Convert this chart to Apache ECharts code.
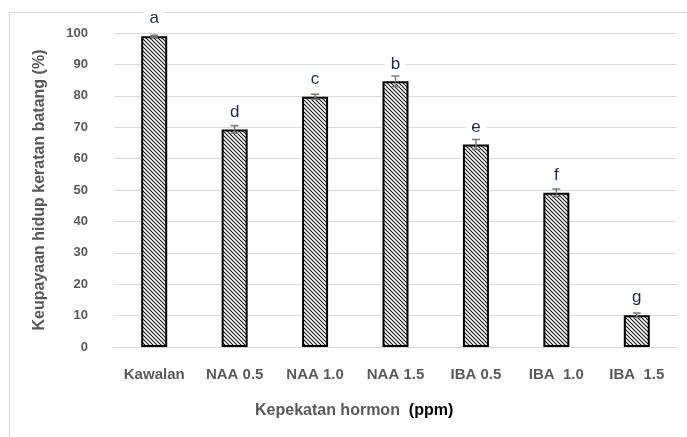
<!DOCTYPE html>
<html>
<head>
<meta charset="utf-8">
<script src="https://cdn.jsdelivr.net/npm/echarts@6/dist/echarts.min.js"></script>
<style>html,body{margin:0;padding:0;background:#fff}#c{width:687px;height:437px}</style>
</head>
<body>
<div id="c"></div>
<script>
const categories = ['Kawalan', 'NAA 0.5', 'NAA 1.0', 'NAA 1.5', 'IBA 0.5', 'IBA  1.0', 'IBA  1.5'];
const values = [99.0, 69.3, 79.7, 84.6, 64.5, 49.1, 10.1];
const errors = [0.3, 1.2, 0.8, 1.7, 1.6, 1.2, 0.7];
const letters = ['a', 'd', 'c', 'b', 'e', 'f', 'g'];
const yTicks = { min: 0, max: 100, interval: 10 };

const tile = document.createElement('canvas');
tile.width = 4; tile.height = 4;
const g = tile.getContext('2d');
g.fillStyle = '#ffffff'; g.fillRect(0, 0, 4, 4);
g.strokeStyle = '#1a1a1a'; g.lineWidth = 1.15;
g.beginPath();
g.moveTo(-1, -1); g.lineTo(5, 5);
g.moveTo(-1, 3); g.lineTo(1, 5);
g.moveTo(3, -1); g.lineTo(5, 1);
g.stroke();

const fontMain = "'Liberation Sans',Arial,sans-serif";

const chart = echarts.init(document.getElementById('c'));
chart.setOption({
  animation: false,
  backgroundColor: '#fff',
  graphic: [
    { type: 'rect', shape: { x: 9.5, y: 12.5, width: 700, height: 450 }, style: { fill: 'none', stroke: '#d9d9d9', lineWidth: 1 }, z: -10 },
    { type: 'text', left: 255, top: 403, style: {
        text: '{a|Kepekatan hormon}  {b|(ppm)}',
        rich: {
          a: { font: "bold 16px " + fontMain, fill: '#595959' },
          b: { font: "bold 16px " + fontMain, fill: '#000000' }
        },
        font: "bold 16px " + fontMain
      } }
  ],
  grid: { left: 114, right: 10, top: 33, bottom: 90 },
  xAxis: {
    type: 'category',
    data: categories,
    axisLine: { lineStyle: { color: '#d9d9d9', width: 1 } },
    axisTick: { show: false },
    axisLabel: { color: '#595959', fontWeight: 'bold', fontSize: 15, fontFamily: fontMain, margin: 20 }
  },
  yAxis: {
    type: 'value',
    min: yTicks.min, max: yTicks.max, interval: yTicks.interval,
    name: 'Keupayaan hidup keratan batang (%)',
    nameLocation: 'middle',
    nameGap: 66,
    nameTextStyle: { color: '#595959', fontWeight: 'bold', fontSize: 16, fontFamily: fontMain },
    axisLine: { show: false },
    axisTick: { show: false },
    splitLine: { lineStyle: { color: '#d9d9d9', width: 1 } },
    axisLabel: { color: '#595959', fontWeight: 'bold', fontSize: 13, fontFamily: fontMain, margin: 26 }
  },
  series: [
    {
      type: 'bar',
      data: values,
      barWidth: 26,
      itemStyle: { color: { image: tile, repeat: 'repeat' }, borderColor: '#000', borderWidth: 2 },
      label: {
        show: true, position: 'top', distance: 8,
        formatter: p => letters[p.dataIndex],
        color: '#1f2a44', fontSize: 17, fontFamily: fontMain,
        backgroundColor: '#fff', padding: [1, 6]
      },
      z: 2
    },
    {
      type: 'custom',
      data: values.map((v, i) => [i, v - errors[i], v + errors[i]]),
      renderItem: function (params, api) {
        const lo = api.coord([api.value(0), api.value(1)]);
        const hi = api.coord([api.value(0), api.value(2)]);
        const w = 4;
        const st = { stroke: '#7a7a7a', lineWidth: 1.5 };
        return {
          type: 'group',
          children: [
            { type: 'line', shape: { x1: hi[0], y1: hi[1], x2: lo[0], y2: lo[1] }, style: st },
            { type: 'line', shape: { x1: hi[0] - w, y1: hi[1], x2: hi[0] + w, y2: hi[1] }, style: st },
            { type: 'line', shape: { x1: lo[0] - w, y1: lo[1], x2: lo[0] + w, y2: lo[1] }, style: st }
          ]
        };
      },
      z: 5
    }
  ]
});
</script>
</body>
</html>
